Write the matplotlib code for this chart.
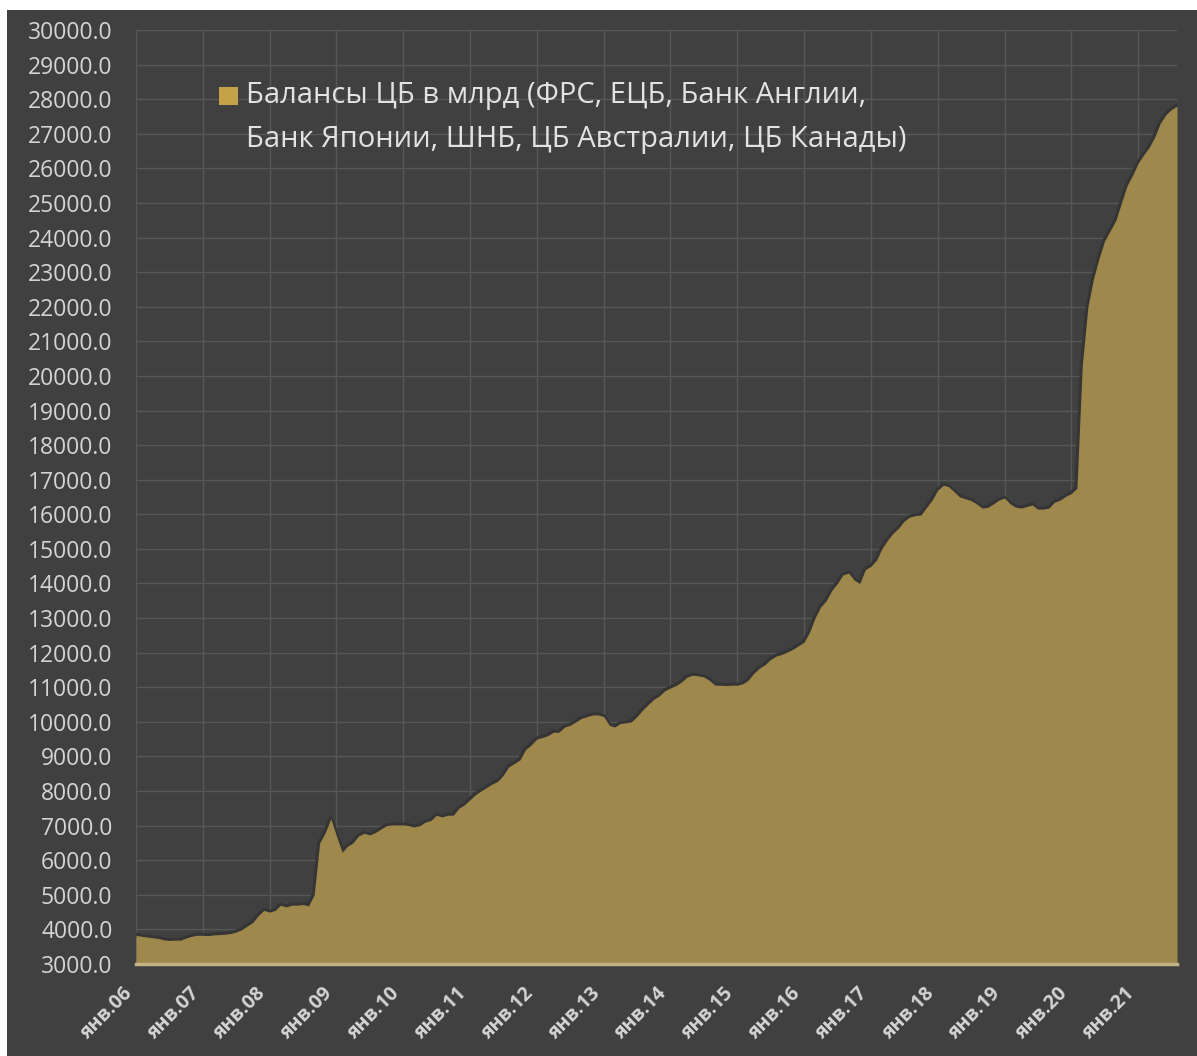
import numpy as np
import pandas as pd
import matplotlib
matplotlib.use("Agg")
import matplotlib.pyplot as plt
import matplotlib.dates as mdates
import matplotlib.transforms as mtransforms
from matplotlib.patches import Rectangle
from matplotlib.ticker import FuncFormatter, MultipleLocator

# monthly balance sheets, bln (Jan 2006 .. Aug 2021)
bal_2006 = [3830, 3800, 3780, 3760, 3740, 3700, 3680, 3690, 3690, 3750, 3800, 3830]
bal_2007 = [3830, 3820, 3840, 3850, 3860, 3880, 3920, 3990, 4100, 4200, 4400, 4550]
bal_2008 = [4500, 4550, 4700, 4650, 4700, 4700, 4720, 4680, 5000, 6500, 6800, 7200]
bal_2009 = [6700, 6230, 6400, 6500, 6700, 6780, 6730, 6800, 6900, 7000, 7020, 7020]
bal_2010 = [7020, 7000, 6960, 7000, 7100, 7150, 7300, 7250, 7300, 7300, 7500, 7600]
bal_2011 = [7750, 7900, 8000, 8100, 8200, 8280, 8450, 8700, 8800, 8900, 9200, 9330]
bal_2012 = [9500, 9550, 9600, 9700, 9700, 9850, 9900, 10000, 10100, 10150, 10200, 10200]
bal_2013 = [10150, 9900, 9850, 9950, 9970, 10000, 10150, 10340, 10500, 10650, 10750, 10900]
bal_2014 = [10980, 11050, 11150, 11290, 11350, 11330, 11300, 11200, 11060, 11060, 11050, 11060]
bal_2015 = [11060, 11100, 11200, 11400, 11550, 11650, 11800, 11900, 11950, 12020, 12100, 12200]
bal_2016 = [12300, 12600, 13000, 13320, 13500, 13800, 14000, 14250, 14300, 14100, 14000, 14400]
bal_2017 = [14500, 14680, 15000, 15250, 15450, 15600, 15800, 15920, 15960, 15980, 16200, 16410]
bal_2018 = [16700, 16840, 16800, 16650, 16500, 16450, 16400, 16300, 16180, 16200, 16300, 16410]
bal_2019 = [16470, 16300, 16210, 16180, 16220, 16270, 16150, 16150, 16180, 16350, 16410, 16520]
bal_2020 = [16600, 16750, 20300, 22000, 22800, 23400, 23900, 24200, 24500, 25000, 25500, 25800]
bal_2021 = [26150, 26400, 26600, 26900, 27300, 27550, 27700, 27800]

balances = (bal_2006 + bal_2007 + bal_2008 + bal_2009 + bal_2010 + bal_2011 + bal_2012 + bal_2013
            + bal_2014 + bal_2015 + bal_2016 + bal_2017 + bal_2018 + bal_2019 + bal_2020 + bal_2021)
months = pd.date_range("2006-01-01", periods=len(balances), freq="MS")

tick_years = list(range(2006, 2022))
tick_labels = ["янв.%02d" % (y % 100) for y in tick_years]
legend_label = "Балансы ЦБ в млрд (ФРС, ЕЦБ, Банк Англии,\nБанк Японии, ШНБ, ЦБ Австралии, ЦБ Канады)"

bg = "#404040"
gold = "#a38b4c"
txt = "#d4d4d4"

plt.rcParams["font.family"] = ["Open Sans", "DejaVu Sans"]

fig = plt.figure(figsize=(11.97, 10.56), dpi=100, facecolor="white")
# dark panel (the original has a thin white margin top/left)
fig.add_artist(Rectangle((7 / 1197, 0), 1, 1 - 10 / 1056, transform=fig.transFigure,
                         facecolor=bg, edgecolor="none", zorder=-10))
ax = fig.add_axes([136 / 1197, 1 - 964 / 1056, (1177 - 136) / 1197, (964 - 30) / 1056])
ax.set_facecolor(bg)

x = mdates.date2num(months)
y = np.array(balances, dtype=float)
# soft dark edge above the area
ax.plot(x, y, color="#353535", lw=3.5, zorder=2, solid_joinstyle="round")
ax.fill_between(x, 3000, y, color=gold, lw=0, alpha=0.97, zorder=3)

ax.set_xlim(x[0], x[-1])
ax.set_ylim(3000, 30000)
ax.yaxis.set_major_locator(MultipleLocator(1000))
ax.yaxis.set_major_formatter(FuncFormatter(lambda v, p: "%.1f" % v))

ticks = mdates.date2num([pd.Timestamp(yr, 1, 1) for yr in tick_years])
ax.set_xticks(ticks)
ax.set_xticklabels(tick_labels)

ax.grid(True, color="#575757", lw=1)
ax.set_axisbelow(True)
for s in ["top", "right", "left"]:
    ax.spines[s].set_visible(False)
ax.spines["bottom"].set_color("#c2b386")
ax.spines["bottom"].set_linewidth(2.5)
ax.spines["bottom"].set_zorder(4)

ax.tick_params(axis="y", length=0, pad=17, labelsize=16.5, labelcolor=txt)
ax.tick_params(axis="x", length=0, pad=14, labelsize=14, labelcolor=txt)
shift = mtransforms.ScaledTranslation(-14 / 100, 0, fig.dpi_scale_trans)
for lab in ax.get_xticklabels():
    lab.set_rotation(45)
    lab.set_rotation_mode("anchor")
    lab.set_ha("right")
    lab.set_va("top")
    lab.set_fontweight("bold")
    lab.set_transform(lab.get_transform() + shift)

# legend box, drawn by hand so the swatch sits on the first line
ax.add_patch(Rectangle(((219 - 136) / 1041, (964 - 105) / 934), 19 / 1041, 18 / 934,
                       transform=ax.transAxes, facecolor="#c4a24a", edgecolor="none", zorder=5))
ax.text((246 - 136) / 1041, (964 - 81) / 934, legend_label, transform=ax.transAxes,
        ha="left", va="top", fontsize=21, color="#e2e2e2", linespacing=1.68, zorder=5)

fig.savefig("out.png", dpi=100, facecolor=fig.get_facecolor())
